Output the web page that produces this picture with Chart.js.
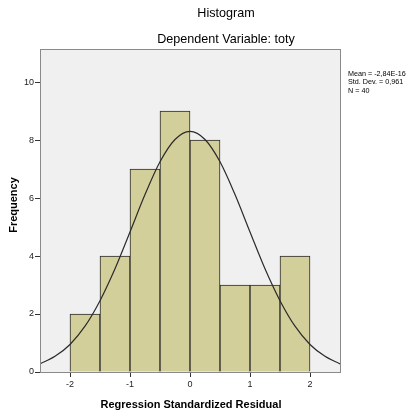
<!DOCTYPE html>
<html>
<head>
<meta charset="utf-8">
<script src="https://cdn.jsdelivr.net/npm/chart.js@4/dist/chart.umd.min.js"></script>
<style>
  html, body { margin: 0; padding: 0; background: #fff; }
  #wrap { width: 409px; height: 416px; }
</style>
</head>
<body>
<div id="wrap"><canvas id="hist" width="409" height="416"></canvas></div>
<script>
// bins (centres) and counts
const binCenters = [-1.75, -1.25, -0.75, -0.25, 0.25, 0.75, 1.25, 1.75];
const binCounts = [2, 4, 7, 9, 8, 3, 3, 4];

// normal curve
const curveX = [-2.5, -2.25, -2, -1.75, -1.5, -1.25, -1, -0.75, -0.5, -0.25, 0,
  0.25, 0.5, 0.75, 1, 1.25, 1.5, 1.75, 2, 2.25, 2.5];
const curveY = [0.28, 0.54, 0.95, 1.58, 2.46, 3.56, 4.83, 6.12, 7.25, 8.02, 8.3,
  8.02, 7.25, 6.12, 4.83, 3.56, 2.46, 1.58, 0.95, 0.54, 0.28];

const xTicks = [-2, -1, 0, 1, 2];
const yTicks = [0, 2, 4, 6, 8, 10];

const statLines = ['Mean = -2,84E-16', 'Std. Dev. = 0,961', 'N = 40'];

// 배경 + 테두리 + 텍스트
const frame = {
  id: 'frame',
  beforeDraw(chart) {
    const { ctx, chartArea: a } = chart;
    ctx.save();
    ctx.fillStyle = '#f0f0f0';
    ctx.fillRect(a.left, a.top, a.right - a.left, a.bottom - a.top);
    ctx.restore();
  },
  afterDraw(chart) {
    const { ctx, chartArea: a } = chart;
    ctx.save();
    ctx.strokeStyle = '#8a8a8a';
    ctx.lineWidth = 1;
    ctx.strokeRect(a.left + 0.5, a.top + 0.5, a.right - a.left, a.bottom - a.top);

    ctx.fillStyle = '#000';
    ctx.textAlign = 'center';
    ctx.textBaseline = 'middle';
    ctx.font = '12.6px "Liberation Sans", Arial';
    ctx.fillText('Histogram', 226, 14);
    ctx.fillText('Dependent Variable: toty', 226, 40);

    ctx.font = 'bold 11px "Liberation Sans", Arial';
    ctx.fillText('Regression Standardized Residual', 191, 405);
    ctx.translate(14, 205);
    ctx.rotate(-Math.PI / 2);
    ctx.fillText('Frequency', 0, 0);
    ctx.restore();

    ctx.save();
    ctx.font = '7.2px "Liberation Sans", Arial';
    ctx.fillStyle = '#000';
    ctx.textBaseline = 'middle';
    statLines.forEach((t, i) => ctx.fillText(t, 348, 74 + i * 8.5));
    ctx.restore();
  }
};

new Chart(document.getElementById('hist'), {
  data: {
    datasets: [{
      type: 'line',
      data: curveX.map((x, i) => ({ x, y: curveY[i] })),
      borderColor: '#2a2a2a',
      borderWidth: 1.2,
      pointRadius: 0,
      cubicInterpolationMode: 'monotone',
      fill: false,
      order: 0
    }, {
      type: 'bar',
      data: binCenters.map((x, i) => ({ x, y: binCounts[i] })),
      backgroundColor: '#d3cf9a',
      borderColor: '#2a2a2a',
      borderWidth: 1,
      barPercentage: 1,
      categoryPercentage: 1,
      order: 1
    }]
  },
  options: {
    responsive: false,
    animation: false,
    layout: { padding: { top: 49, right: 69, left: 0, bottom: 0 } },
    plugins: { legend: { display: false }, tooltip: { enabled: false } },
    scales: {
      x: {
        type: 'linear',
        min: -2.5,
        max: 2.5,
        offset: false,
        afterFit: s => { s.height = 44; },
        afterBuildTicks: s => { s.ticks = xTicks.map(v => ({ value: v })); },
        grid: { display: true, offset: false, drawOnChartArea: false, drawTicks: true, tickLength: 5, color: '#333' },
        border: { display: true, color: '#333' },
        ticks: { font: { size: 9, family: '"Liberation Sans", Arial' }, color: '#222', padding: 2, maxRotation: 0 }
      },
      y: {
        min: 0,
        max: 11.14,
        afterFit: s => { s.width = 40; },
        afterBuildTicks: s => { s.ticks = yTicks.map(v => ({ value: v })); },
        grid: { display: true, drawOnChartArea: false, drawTicks: true, tickLength: 5, color: '#333' },
        border: { display: true, color: '#333' },
        ticks: { font: { size: 9, family: '"Liberation Sans", Arial' }, color: '#222', padding: 1 }
      }
    }
  },
  plugins: [frame]
});
</script>
</body>
</html>
